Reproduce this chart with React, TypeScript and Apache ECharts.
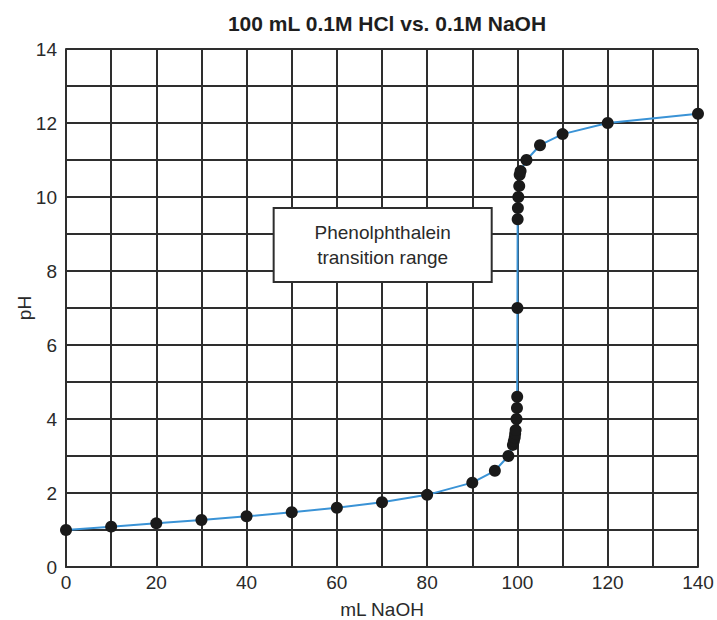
import React, { useEffect, useRef } from "react";
import * as echarts from "echarts";

const volumes = [0, 10, 20, 30, 40, 50, 60, 70, 80, 90, 95, 98, 99, 99.2, 99.4, 99.5, 99.6, 99.8, 99.9, 99.95, 100, 100.05, 100.1, 100.2, 100.4, 100.5, 100.7, 102, 105, 110, 120, 140];
const pHValues = [1.0, 1.09, 1.18, 1.27, 1.37, 1.48, 1.6, 1.75, 1.95, 2.28, 2.6, 3.0, 3.3, 3.4, 3.5, 3.6, 3.7, 4.0, 4.3, 4.6, 7.0, 9.4, 9.7, 10.0, 10.3, 10.6, 10.7, 11.0, 11.4, 11.7, 12.0, 12.25];

const titleText = "100 mL 0.1M HCl vs. 0.1M NaOH";
const xName = "mL NaOH";
const yName = "pH";
const boxLabel = "Phenolphthalein\ntransition range";
const boxX = [46, 94.3];
const boxY = [9.7, 7.7];

const FONT = "'Liberation Sans', Arial, Helvetica, sans-serif";
const GRID = "#2e2e2e";
const TEXT = "#2a2a2a";

export default function App() {
  const ref = useRef<HTMLDivElement>(null);
  useEffect(() => {
    if (!ref.current) return;
    const chart = echarts.init(ref.current, null, { renderer: "svg" });
    chart.setOption({
      animation: false,
      backgroundColor: "#ffffff",
      title: {
        text: titleText,
        left: 382,
        textAlign: "center",
        top: 8,
        textStyle: { fontFamily: FONT, fontSize: 21, fontWeight: "bold", color: "#1e1e1e" },
      },
      grid: { left: 66, right: 19, top: 49, bottom: 53, containLabel: false, outerBoundsMode: "none" },
      xAxis: {
        type: "value",
        min: 0,
        max: 140,
        interval: 10,
        name: xName,
        nameLocation: "middle",
        nameGap: 33,
        nameTextStyle: { fontFamily: FONT, fontSize: 19, color: TEXT },
        axisLine: { show: true, lineStyle: { color: GRID, width: 2 } },
        axisTick: { show: false },
        axisLabel: {
          fontFamily: FONT,
          fontSize: 19,
          color: TEXT,
          margin: 6,
          formatter: (v: number) => (v % 20 === 0 ? String(v) : ""),
        },
        splitLine: { show: true, lineStyle: { color: GRID, width: 2 } },
      },
      yAxis: {
        type: "value",
        min: 0,
        max: 14,
        interval: 1,
        name: yName,
        nameLocation: "middle",
        nameGap: 32,
        nameMoveOverlap: false,
        nameTextStyle: { fontFamily: FONT, fontSize: 19, color: TEXT },
        axisLine: { show: true, lineStyle: { color: GRID, width: 2 } },
        axisTick: { show: false },
        axisLabel: {
          fontFamily: FONT,
          fontSize: 19,
          color: TEXT,
          margin: 9,
          formatter: (v: number) => (v % 2 === 0 ? String(v) : ""),
        },
        splitLine: { show: true, lineStyle: { color: GRID, width: 2 } },
      },
      series: [
        {
          type: "line",
          data: volumes.map((v, i) => [v, pHValues[i]]),
          symbol: "circle",
          symbolSize: 12,
          itemStyle: { color: "#1a1a1a" },
          lineStyle: { color: "#3a93d6", width: 2 },
          z: 5,
          markArea: {
            silent: true,
            itemStyle: { color: "#ffffff", borderColor: GRID, borderWidth: 2 },
            label: {
              show: true,
              position: "inside",
              fontFamily: FONT,
              fontSize: 19,
              color: TEXT,
              lineHeight: 25,
              align: "center",
            },
            data: [
              [
                { name: boxLabel, coord: [boxX[0], boxY[0]] },
                { coord: [boxX[1], boxY[1]] },
              ],
            ],
          },
        },
      ],
    });
    return () => chart.dispose();
  }, []);
  return <div ref={ref} style={{ position: "absolute", left: 0, top: 0, width: 717, height: 620 }} />;
}
